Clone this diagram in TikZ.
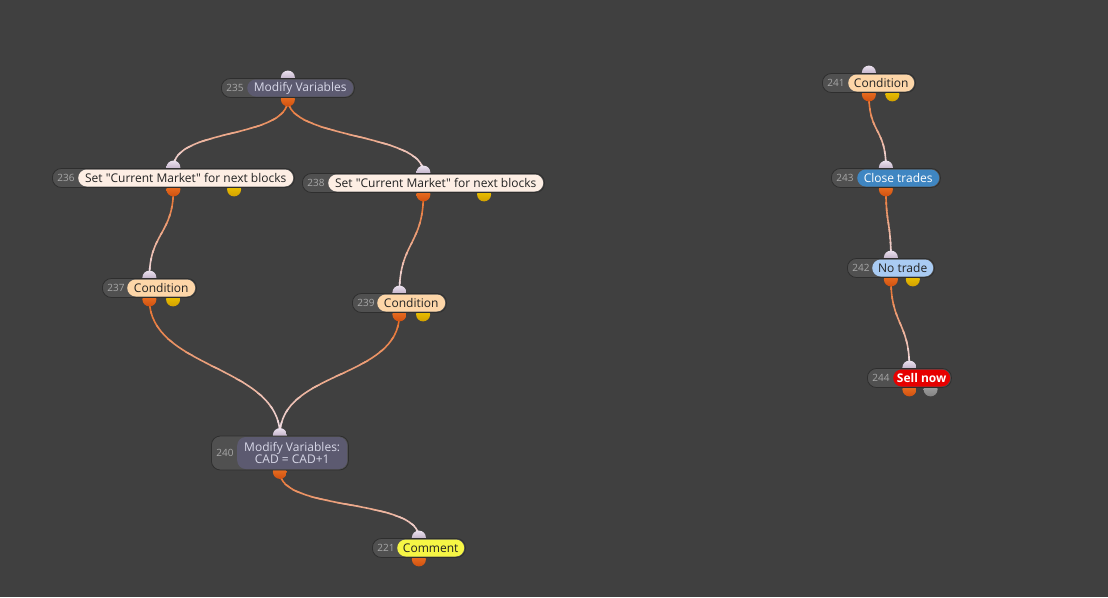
\documentclass[tikz,border=0pt]{standalone}
\usepackage{fontspec}
\setmainfont{Open Sans}[Ligatures=TeXOff]
\usetikzlibrary{calc}
\definecolor{bg}{HTML}{404040}
\definecolor{pillc}{HTML}{505050}
\definecolor{pilld}{HTML}{2E2E2E}
\definecolor{idc}{HTML}{A8A8A8}
\definecolor{eorange}{HTML}{E8702A}
\definecolor{ewhite}{HTML}{F0E4F0}
\definecolor{modc}{HTML}{5C5A70}
\definecolor{modt}{HTML}{D8D8E8}
\definecolor{setc}{HTML}{FDEEE4}
\definecolor{condc}{HTML}{FDD6A8}
\definecolor{comc}{HTML}{F6F645}
\definecolor{closec}{HTML}{3F86C2}
\definecolor{noc}{HTML}{A9CBF3}
\definecolor{sellc}{HTML}{E60000}
\definecolor{darkt}{HTML}{222222}
\pgfdeclarelayer{bglayer}
\pgfdeclarelayer{edges}
\pgfdeclarelayer{ports}
\pgfsetlayers{bglayer,edges,ports,main}
\tikzset{
  pill/.style={rectangle, rounded corners=9pt, fill=pillc, draw=pilld, line width=0.8pt, inner sep=0pt},
  lab/.style={rectangle, rounded corners=8.5pt, inner sep=0pt, font=\fontsize{12}{13.5}\selectfont, align=center, text=darkt},
  idtext/.style={font=\fontsize{10}{11}\selectfont, text=idc, inner sep=0pt},
  port/.style={circle, inner sep=0pt, minimum size=14pt},
  inport/.style={port, top color={rgb,255:red,235;green,225;blue,238}, bottom color={rgb,255:red,165;green,145;blue,175}},
  outport/.style={port, top color={rgb,255:red,244;green,124;blue,40}, bottom color={rgb,255:red,208;green,80;blue,16}},
  yport/.style={port, top color={rgb,255:red,245;green,205;blue,0}, bottom color={rgb,255:red,210;green,160;blue,0}},
  gport/.style={port, top color={rgb,255:red,170;green,170;blue,170}, bottom color={rgb,255:red,130;green,130;blue,130}},
  modlab/.style={fill=modc, text=modt},
  setlab/.style={fill=setc},
  condlab/.style={fill=condc},
  comlab/.style={fill=comc},
  closelab/.style={fill=closec, text=white},
  nolab/.style={fill=noc},
  selllab/.style={fill=sellc, text=white, font=\fontsize{12}{13.5}\selectfont\bfseries},
  edge/.style={line width=1.6pt},
}
% name, xl, xm, xr, yc, h, id, style, text
\newcommand\blk[9]{%
  \node[pill, minimum width={#4-#2}, minimum height={#6}, anchor=west] (#1) at (#2,#5) {};
  \node[idtext] at ({#2+14},#5) {#7};
  \node[lab, #8, minimum width={#4-#3-1}, minimum height={#6-2}, anchor=west] (#1l) at (#3,#5) {#9};
  \begin{pgfonlayer}{ports}
    \node[inport] (i#1) at ([yshift=0.5pt]#1.north) {};
    \node[outport] (o#1) at ([yshift=-1.5pt]#1.south) {};
  \end{pgfonlayer}
}
\newcommand\yp[2]{%
  \begin{pgfonlayer}{ports}
    \node[#2] (y#1) at ([yshift=-1.5pt]$(#1.south west)!0.75!(#1.south east)$) {};
  \end{pgfonlayer}
}
% from, to, k
\newcommand\conn[3]{%
  \begin{pgfonlayer}{edges}
  \foreach \i [evaluate=\i as \a using \i/10, evaluate=\i as \b using (\i+1)/10, evaluate=\i as \p using int(100-\i*10)] in {0,...,9}{
    \begin{scope}
      \clip ([xshift=-1200pt,yshift=1pt]$(#1.center)!\a!(#2.center)$) rectangle ([xshift=1200pt,yshift=-1pt]$(#1.center)!\b!(#2.center)$);
      \draw[edge, color=eorange!\p!ewhite] (#1.center) .. controls +(0,#3) and +(0,-#3) .. (#2.center);
    \end{scope}
  }
  \end{pgfonlayer}
}
\begin{document}
\begin{tikzpicture}[x=1pt,y=-1pt]
\begin{pgfonlayer}{bglayer}
\fill[bg] (0,0) rectangle (1108,597);
\end{pgfonlayer}
\useasboundingbox (0,0) rectangle (1108,597);

\blk{b235}{221}{247}{354}{88}{19}{235}{modlab}{Modify Variables}
\blk{b236}{52}{78}{294}{178}{19}{236}{setlab}{Set "Current Market" for next blocks}
\blk{b238}{302}{328}{544}{183}{19}{238}{setlab}{Set "Current Market" for next blocks}
\blk{b237}{102}{127}{196}{288}{19}{237}{condlab}{Condition}
\blk{b239}{352}{377}{446}{303}{19}{239}{condlab}{Condition}
\blk{b240}{211}{237}{348}{453}{34}{240}{modlab}{Modify Variables:\\[-2pt]CAD = CAD+1}
\blk{b221}{372}{397}{465}{548}{19}{221}{comlab}{Comment}
\blk{b241}{822}{848}{915}{83}{19}{241}{condlab}{Condition}
\blk{b243}{831}{857}{940}{178}{19}{243}{closelab}{Close trades}
\blk{b242}{847}{872}{934}{268}{19}{242}{nolab}{No trade}
\blk{b244}{867}{893}{951}{378}{19}{244}{selllab}{Sell now}

\yp{b236}{yport}
\yp{b238}{yport}
\yp{b237}{yport}
\yp{b239}{yport}
\yp{b241}{yport}
\yp{b242}{yport}
\yp{b244}{gport}

\conn{ob235}{ib236}{40}
\conn{ob235}{ib238}{40}
\conn{ob236}{ib237}{45}
\conn{ob238}{ib239}{50}
\conn{ob237}{ib240}{70}
\conn{ob239}{ib240}{65}
\conn{ob240}{ib221}{40}
\conn{ob241}{ib243}{40}
\conn{ob243}{ib242}{35}
\conn{ob242}{ib244}{45}
\end{tikzpicture}
\end{document}
